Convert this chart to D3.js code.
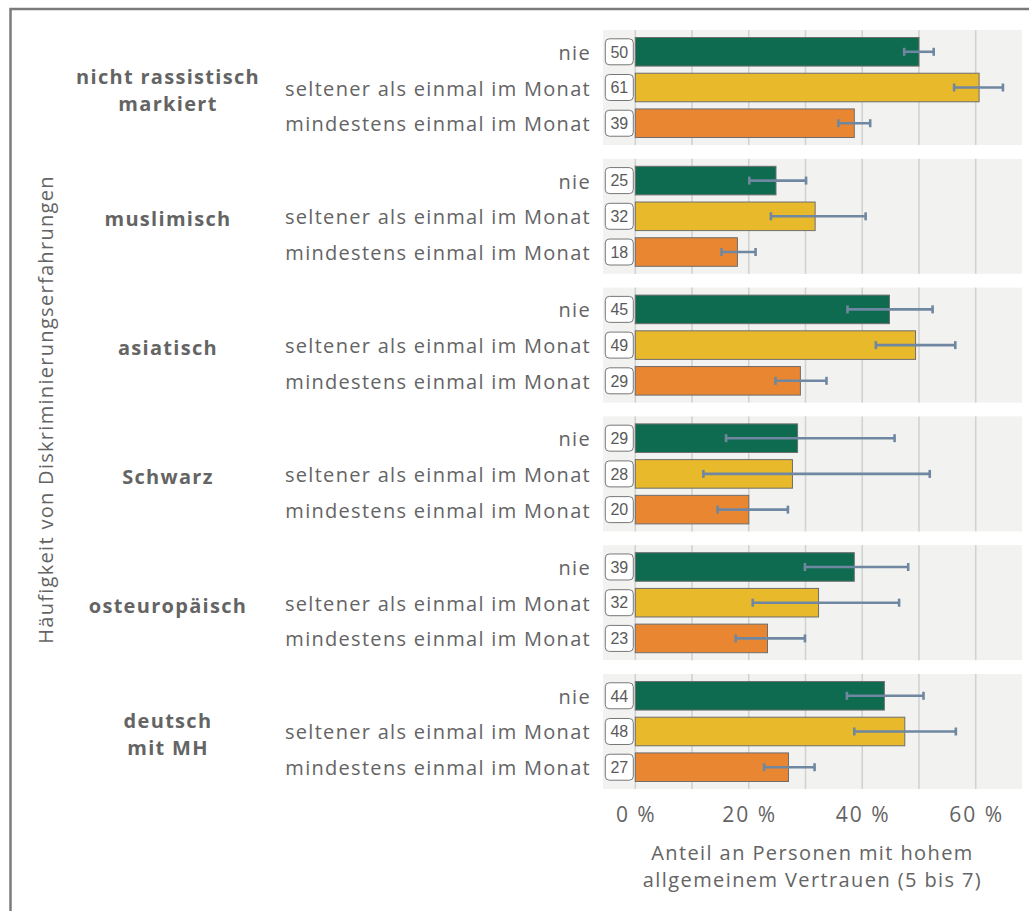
<!DOCTYPE html>
<html>
<head>
<meta charset="utf-8">
<script src="https://cdn.jsdelivr.net/npm/d3@7"></script>
<style>
  html, body { margin: 0; padding: 0; background: #fff; }
  svg { display: block; }
</style>
</head>
<body>
<svg id="chart" width="1029" height="911"></svg>
<script>
// Groups (rows of panels), one label line per entry
const groupLabels = [
  ["nicht rassistisch", "markiert"],
  ["muslimisch"],
  ["asiatisch"],
  ["Schwarz"],
  ["osteuropäisch"],
  ["deutsch", "mit MH"]
];

// Frequency of discrimination experiences (bars inside each panel)
const frequencies = ["nie", "seltener als einmal im Monat", "mindestens einmal im Monat"];

// Share of persons with high general trust, in percent, per group
const shareNie        = [50.0, 24.8, 44.8, 28.6, 38.6, 43.9];
const shareSeltener   = [60.6, 31.7, 49.4, 27.7, 32.3, 47.5];
const shareMindestens = [38.6, 18.0, 29.1, 20.0, 23.3, 27.0];

// Confidence intervals (lower / upper bound), in percent
const lowNie         = [47.4, 20.1, 37.4, 16.0, 29.9, 37.3];
const highNie        = [52.6, 30.1, 52.4, 45.7, 48.1, 50.8];
const lowSeltener    = [56.2, 23.9, 42.4, 12.0, 20.7, 38.6];
const highSeltener   = [64.8, 40.6, 56.4, 51.9, 46.5, 56.5];
const lowMindestens  = [35.8, 15.2, 24.7, 14.5, 17.7, 22.7];
const highMindestens = [41.4, 21.2, 33.7, 26.9, 29.9, 31.6];

// Axis ticks and titles
const xTicks = [0, 20, 40, 60];
const gridTicks = [0, 10, 20, 30, 40, 50, 60];
const xTitle = ["Anteil an Personen mit hohem", "allgemeinem Vertrauen (5 bis 7)"];
const yTitle = "Häufigkeit von Diskriminierungserfahrungen";

const colors = ["#0e6b50", "#e8b92b", "#e98632"];

// Long-form table built from the arrays above
const shares = [shareNie, shareSeltener, shareMindestens];
const lows = [lowNie, lowSeltener, lowMindestens];
const highs = [highNie, highSeltener, highMindestens];
const groupIdx = d3.range(groupLabels.length);
const rows = groupIdx.map(g => frequencies.map((f, k) => ({
  group: g, freq: f, k,
  value: shares[k][g], low: lows[k][g], high: highs[k][g]
})));

const svg = d3.select("#chart");
const textColor = "#646464";
const labelFont = "'Open Sans', 'Noto Sans', sans-serif";

// Outer frame
svg.append("rect")
  .attr("x", 10.5).attr("y", 9)
  .attr("width", 1100).attr("height", 1000)
  .attr("fill", "none").attr("stroke", "#7b7b7b").attr("stroke-width", 2.5);

const panelLeft = 603, panelRight = 1022;
const x = d3.scaleLinear().domain([0, 60]).range([635.3, 975.7]);

const yGroup = d3.scaleBand().domain(groupIdx).range([30, 789]).paddingInner(0.107).paddingOuter(0);
const yFreq = d3.scaleBand().domain(frequencies).range([0, yGroup.bandwidth()]).paddingInner(0.2).paddingOuter(0.21);

const panels = svg.selectAll("g.panel").data(rows).join("g")
  .attr("class", "panel")
  .attr("transform", (d, i) => `translate(0,${yGroup(i)})`);

// Panel background
panels.append("rect")
  .attr("x", panelLeft).attr("y", 0)
  .attr("width", panelRight - panelLeft).attr("height", yGroup.bandwidth())
  .attr("fill", "#f2f3f1");

// Vertical grid lines
panels.selectAll("line.grid").data(gridTicks).join("line")
  .attr("class", "grid")
  .attr("x1", d => x(d)).attr("x2", d => x(d))
  .attr("y1", 0).attr("y2", yGroup.bandwidth())
  .attr("stroke", "#d2d3d1").attr("stroke-width", 1.6);

// Bars
panels.selectAll("rect.bar").data(d => d).join("rect")
  .attr("class", "bar")
  .attr("x", x(0)).attr("y", d => yFreq(d.freq))
  .attr("width", d => x(d.value) - x(0)).attr("height", yFreq.bandwidth())
  .attr("fill", d => colors[d.k])
  .attr("stroke", "#6e6e6e").attr("stroke-width", 1);

// Value boxes
const boxW = 28, boxH = 26;
panels.selectAll("rect.vbox").data(d => d).join("rect")
  .attr("class", "vbox")
  .attr("x", x(0) - 2 - boxW)
  .attr("y", d => yFreq(d.freq) + yFreq.bandwidth() / 2 - boxH / 2)
  .attr("width", boxW).attr("height", boxH).attr("rx", 4)
  .attr("fill", "#fff").attr("stroke", "#777").attr("stroke-width", 1);

panels.selectAll("text.vlab").data(d => d).join("text")
  .attr("class", "vlab")
  .attr("x", x(0) - 2 - boxW / 2)
  .attr("y", d => yFreq(d.freq) + yFreq.bandwidth() / 2)
  .attr("dy", "0.36em")
  .attr("text-anchor", "middle")
  .attr("font-family", "'Liberation Sans', Arial, sans-serif")
  .attr("font-size", 16)
  .attr("fill", "#5a5a5a")
  .text(d => d3.format(".0f")(d.value));

// Error bars
const errColor = "#6f87a0";
const eb = panels.selectAll("g.err").data(d => d).join("g")
  .attr("class", "err")
  .attr("transform", d => `translate(0,${yFreq(d.freq) + yFreq.bandwidth() / 2})`);
eb.append("line")
  .attr("x1", d => x(d.low)).attr("x2", d => x(d.high))
  .attr("y1", 0).attr("y2", 0)
  .attr("stroke", errColor).attr("stroke-width", 2.6);
eb.selectAll("line.cap").data(d => [d.low, d.high]).join("line")
  .attr("class", "cap")
  .attr("x1", v => x(v)).attr("x2", v => x(v))
  .attr("y1", -4).attr("y2", 4)
  .attr("stroke", errColor).attr("stroke-width", 2.6);

// Frequency labels
panels.selectAll("text.flab").data(d => d).join("text")
  .attr("class", "flab")
  .attr("x", 591)
  .attr("y", d => yFreq(d.freq) + yFreq.bandwidth() / 2 + 1)
  .attr("dy", "0.35em")
  .attr("text-anchor", "end")
  .attr("font-family", labelFont)
  .attr("font-size", 20)
  .attr("letter-spacing", 1.3)
  .attr("fill", textColor)
  .text(d => d.freq);

// Group labels
panels.append("text")
  .attr("text-anchor", "middle")
  .attr("font-family", labelFont)
  .attr("font-weight", "bold")
  .attr("font-size", 20)
  .attr("letter-spacing", 1.3)
  .attr("fill", textColor)
  .each(function(d, i) {
    const lines = groupLabels[i];
    const lh = 27;
    const y0 = yGroup.bandwidth() / 2 + 3 - (lines.length - 1) * lh / 2;
    d3.select(this).selectAll("tspan").data(lines).join("tspan")
      .attr("x", 168)
      .attr("y", (l, j) => y0 + j * lh)
      .attr("dy", "0.35em")
      .text(l => l);
  });

// X axis tick labels
svg.append("g").selectAll("text").data(xTicks).join("text")
  .attr("x", d => x(d) + 1).attr("y", 822)
  .attr("text-anchor", "middle")
  .attr("font-family", labelFont)
  .attr("font-size", 21)
  .attr("letter-spacing", 2)
  .attr("fill", textColor)
  .text(d => `${d} %`);

// X axis title
svg.append("text")
  .attr("text-anchor", "middle")
  .attr("font-family", labelFont)
  .attr("font-size", 20)
  .attr("letter-spacing", 1.4)
  .attr("fill", textColor)
  .selectAll("tspan").data(xTitle).join("tspan")
  .attr("x", (panelLeft + panelRight) / 2)
  .attr("y", (d, i) => 860 + i * 27)
  .text(d => d);

// Y axis title
svg.append("text")
  .attr("transform", `translate(53,${(30 + 789) / 2}) rotate(-90)`)
  .attr("text-anchor", "middle")
  .attr("font-family", labelFont)
  .attr("font-size", 20)
  .attr("letter-spacing", 1.3)
  .attr("fill", textColor)
  .text(yTitle);
</script>
</body>
</html>
